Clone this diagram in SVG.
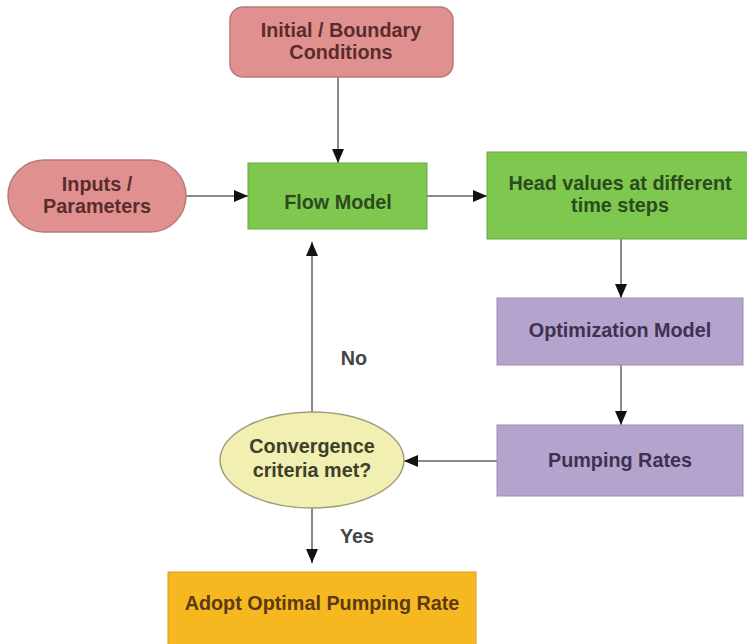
<svg xmlns="http://www.w3.org/2000/svg" width="747" height="644" viewBox="0 0 747 644">
<defs>
<marker id="ah" markerUnits="userSpaceOnUse" markerWidth="16" markerHeight="16" viewBox="0 0 16 16" refX="15" refY="8" orient="auto">
<path d="M1,2 L15,8 L1,14 Z" fill="#111"/>
</marker>
</defs>
<style>
text{font-family:"Liberation Sans",Arial,sans-serif;font-weight:bold;font-size:19.8px;text-anchor:middle}
.pink{fill:#e0918f;stroke:#b97a78;stroke-width:1.5}
.pinkt{fill:#5a2c2c}
.green{fill:#7ec850;stroke:#6aa845;stroke-width:1}
.greent{fill:#2c4a1f}
.purple{fill:#b4a3cc;stroke:#9d8db5;stroke-width:1}
.purplet{fill:#3e3152}
.yellow{fill:#f2efb2;stroke:#9f9d74;stroke-width:1.5}
.yellowt{fill:#3f3f2a}
.orange{fill:#f6b820;stroke:#d69c1a;stroke-width:1}
.oranget{fill:#5b3a12}
.lbl{fill:#444}
.conn{stroke:#8a8a8a;stroke-width:2;fill:none;marker-end:url(#ah)}
</style>
<rect width="747" height="644" fill="#ffffff"/>
<g id="connectors">
<line class="conn" x1="338" y1="77" x2="338" y2="163"/>
<line class="conn" x1="186" y1="196" x2="248" y2="196"/>
<line class="conn" x1="427" y1="196" x2="487" y2="196"/>
<line class="conn" x1="621" y1="239" x2="621" y2="298"/>
<line class="conn" x1="621" y1="365" x2="621" y2="425"/>
<line class="conn" x1="497" y1="461" x2="404" y2="461"/>
<line class="conn" x1="312" y1="412" x2="312" y2="242"/>
<line class="conn" x1="312" y1="508" x2="312" y2="563"/>
<text class="lbl" x="354" y="365">No</text>
<text class="lbl" x="357" y="543">Yes</text>
</g>
<g id="initial">
<rect class="pink" x="230" y="7" width="223" height="70" rx="13"/>
<text class="pinkt" x="341" y="37">Initial / Boundary</text>
<text class="pinkt" x="341" y="59">Conditions</text>
</g>
<g id="inputs">
<rect class="pink" x="8" y="160" width="178" height="72" rx="36"/>
<text class="pinkt" x="97" y="191">Inputs /</text>
<text class="pinkt" x="97" y="213">Parameters</text>
</g>
<g id="flow">
<rect class="green" x="248" y="163" width="179" height="66"/>
<text class="greent" x="338" y="209">Flow Model</text>
</g>
<g id="head">
<rect class="green" x="487" y="152" width="262" height="87"/>
<text class="greent" x="620" y="190">Head values at different</text>
<text class="greent" x="620" y="212">time steps</text>
</g>
<g id="optimization">
<rect class="purple" x="497" y="298" width="246" height="67"/>
<text class="purplet" x="620" y="337">Optimization Model</text>
</g>
<g id="pumping">
<rect class="purple" x="497" y="425" width="246" height="71"/>
<text class="purplet" x="620" y="467">Pumping Rates</text>
</g>
<g id="convergence">
<ellipse class="yellow" cx="312" cy="460" rx="92" ry="48"/>
<text class="yellowt" x="312" y="453">Convergence</text>
<text class="yellowt" x="312" y="477">criteria met?</text>
</g>
<g id="adopt">
<rect class="orange" x="168" y="572" width="308" height="80"/>
<text class="oranget" x="322" y="610">Adopt Optimal Pumping Rate</text>
</g>
</svg>
